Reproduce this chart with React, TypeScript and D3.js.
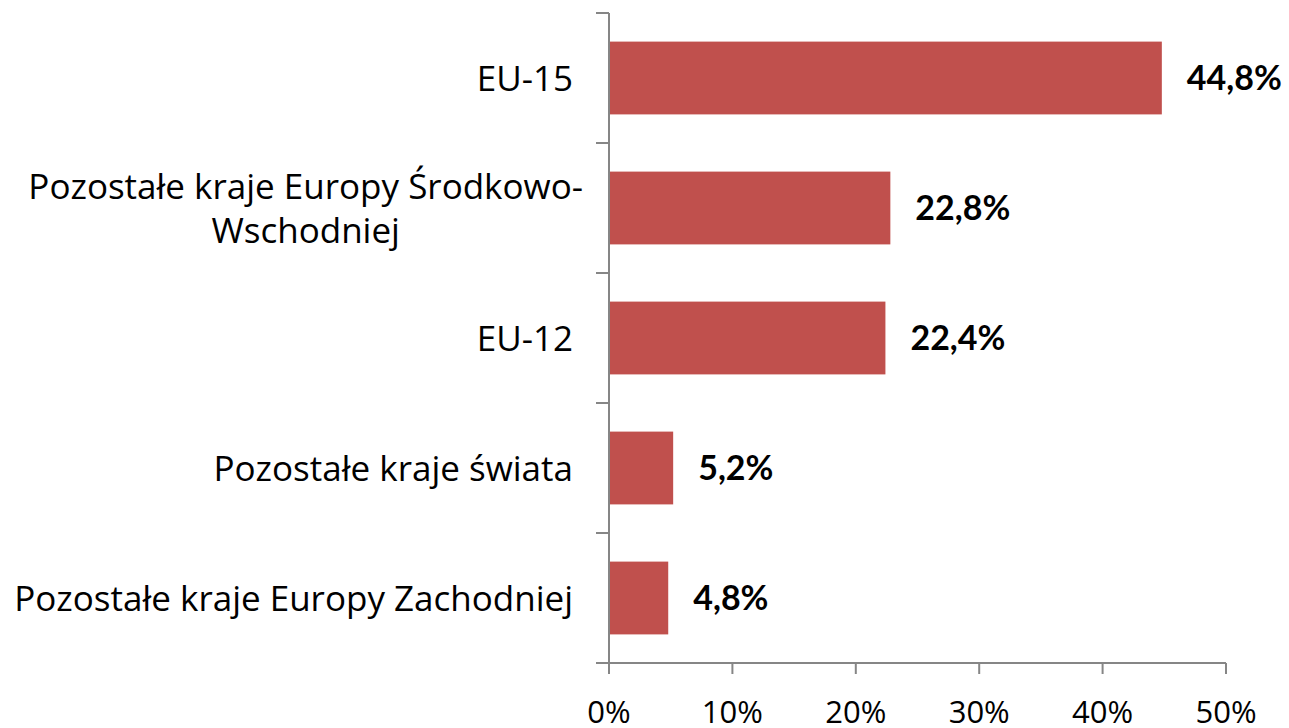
import { useEffect, useRef } from 'react'
import * as d3 from 'd3'

// Categories (top to bottom) and their shares in percent
const categories = [
	'EU-15',
	'Pozostałe kraje Europy Środkowo-\nWschodniej',
	'EU-12',
	'Pozostałe kraje świata',
	'Pozostałe kraje Europy Zachodniej',
]
const values = [44.8, 22.8, 22.4, 5.2, 4.8]
const ticks = [0, 10, 20, 30, 40, 50]

const FONT = '"Open Sans", Lato, sans-serif'
const BOLD_FONT = 'Lato, "Open Sans", sans-serif'

const App = () => {
	const svgRef = useRef<SVGSVGElement>(null)

	useEffect(() => {
		const width = 1289
		const height = 728
		const margin = { top: 13, right: 63, bottom: 65, left: 609 }

		const svg = d3.select(svgRef.current)
		svg.selectAll('*').remove()
		svg.attr('width', width).attr('height', height)

		const x = d3
			.scaleLinear()
			.domain([0, 50])
			.range([margin.left, width - margin.right])
		const y = d3
			.scaleBand()
			.domain(categories)
			.range([margin.top, height - margin.bottom])
			.paddingInner(0.44)
			.paddingOuter(0.22)

		const axisColor = '#868686'

		// Bars
		svg
			.selectAll('.bar')
			.data(categories)
			.enter()
			.append('rect')
			.attr('x', x(0))
			.attr('y', (d) => y(d))
			.attr('width', (d, i) => x(values[i]) - x(0))
			.attr('height', y.bandwidth())
			.attr('fill', '#C0504D')

		// Value labels
		svg
			.selectAll('.val')
			.data(categories)
			.enter()
			.append('text')
			.attr('x', (d, i) => x(values[i]) + 25)
			.attr('y', (d) => y(d) + y.bandwidth() / 2)
			.attr('dy', '0.36em')
			.style('font-family', BOLD_FONT)
			.style('font-size', '34px')
			.style('font-weight', 'bold')
			.style('fill', '#000')
			.text((d, i) => values[i].toFixed(1).replace('.', ',') + '%')

		// Y axis line and category ticks
		const y0 = margin.top
		const y1 = height - margin.bottom
		svg
			.append('line')
			.attr('x1', x(0))
			.attr('x2', x(0))
			.attr('y1', y0)
			.attr('y2', y1 + 11)
			.attr('stroke', axisColor)
			.attr('stroke-width', 2)
		const step = y.step()
		d3.range(categories.length + 1).forEach((i) => {
			svg
				.append('line')
				.attr('x1', x(0) - 13)
				.attr('x2', x(0))
				.attr('y1', y0 + i * step)
				.attr('y2', y0 + i * step)
				.attr('stroke', axisColor)
				.attr('stroke-width', 2)
		})

		// X axis
		svg
			.append('line')
			.attr('x1', x(0) - 13)
			.attr('x2', x(50))
			.attr('y1', y1)
			.attr('y2', y1)
			.attr('stroke', axisColor)
			.attr('stroke-width', 2)
		ticks.forEach((t) => {
			svg
				.append('line')
				.attr('x1', x(t))
				.attr('x2', x(t))
				.attr('y1', y1)
				.attr('y2', y1 + 11)
				.attr('stroke', axisColor)
				.attr('stroke-width', 2)
			svg
				.append('text')
				.attr('x', x(t))
				.attr('y', 723)
				.attr('text-anchor', 'middle')
				.style('font-family', FONT)
				.style('font-size', '31px')
				.style('fill', '#000')
				.text(t + '%')
		})

		// Category labels (multi-line labels centered within their block)
		categories.forEach((c) => {
			const lines = c.split('\n')
			const cy = y(c) + y.bandwidth() / 2
			const lh = 44
			const g = svg.append('g')
			const texts = lines.map((l, i) =>
				g
					.append('text')
					.attr('y', cy + (i - (lines.length - 1) / 2) * lh)
					.attr('dy', '0.36em')
					.attr('text-anchor', 'middle')
					.style('font-family', FONT)
					.style('font-size', '35px')
					.style('fill', '#000')
					.text(l)
			)
			const widths = texts.map((t) => (t.node() as SVGTextElement).getComputedTextLength())
			const w = Math.max(...widths)
			const right = lines.length > 1 ? 583 : 573
			texts.forEach((t) => t.attr('x', right - w / 2))
		})
	}, [])

	return <svg ref={svgRef} style={{ position: 'absolute', left: 0, top: 0 }}></svg>
}

export default App
